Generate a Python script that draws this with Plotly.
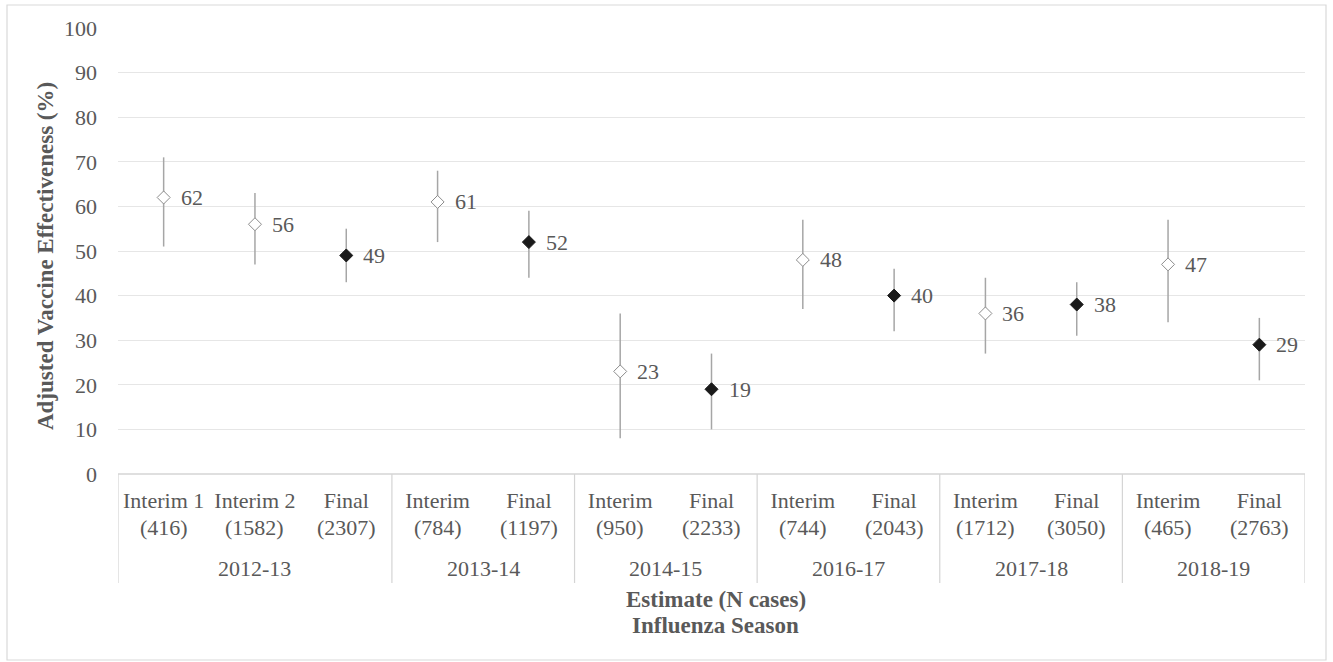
import plotly.graph_objects as go

# ---- data ----
seasons = ["2012-13", "2013-14", "2014-15", "2016-17", "2017-18", "2018-19"]
season_of = ["2012-13", "2012-13", "2012-13", "2013-14", "2013-14", "2014-15", "2014-15",
             "2016-17", "2016-17", "2017-18", "2017-18", "2018-19", "2018-19"]
estimates = ["Interim 1", "Interim 2", "Final", "Interim", "Final", "Interim", "Final",
             "Interim", "Final", "Interim", "Final", "Interim", "Final"]
n_cases = [416, 1582, 2307, 784, 1197, 950, 2233, 744, 2043, 1712, 3050, 465, 2763]
ve = [62, 56, 49, 61, 52, 23, 19, 48, 40, 36, 38, 47, 29]
ci_low = [51, 47, 43, 52, 44, 8, 10, 37, 32, 27, 31, 34, 21]
ci_high = [71, 63, 55, 68, 59, 36, 27, 57, 46, 44, 43, 57, 35]
y_ticks = [0, 10, 20, 30, 40, 50, 60, 70, 80, 90, 100]

TXT = "#595959"
FONT = "Liberation Serif, Times New Roman, DejaVu Serif, serif"
FS = 22

xs = list(range(len(ve)))

# pixel helpers (plot area: x 118..1305, y 28..474)
def py(pix):
    return (474 - pix) / 446

def px(pix):
    return (pix - 118) / 1187

fig = go.Figure()

def add_trace(is_final):
    idx = [i for i in xs if (estimates[i] == "Final") == is_final]
    fig.add_trace(go.Scatter(
        x=[xs[i] for i in idx],
        y=[ve[i] for i in idx],
        mode="markers",
        error_y=dict(type="data", symmetric=False,
                     array=[ci_high[i] - ve[i] for i in idx],
                     arrayminus=[ve[i] - ci_low[i] for i in idx],
                     color="#a6a6a6", thickness=1.5, width=0),
        marker=dict(symbol="diamond", size=10,
                    color="#1a1a1a" if is_final else "white",
                    line=dict(color="#1a1a1a" if is_final else "#8c8c8c", width=1)),
        showlegend=False,
        cliponaxis=False,
    ))

add_trace(False)
add_trace(True)

shapes = []
annotations = []

# value labels to the right of each marker
for i in xs:
    annotations.append(dict(x=xs[i], y=ve[i], xref="x", yref="y", text=str(ve[i]),
                            showarrow=False, xanchor="left", yanchor="middle", xshift=15,
                            font=dict(family=FONT, size=FS, color=TXT)))

# second line of each category label: N cases
for i in xs:
    annotations.append(dict(x=xs[i], y=py(527), xref="x", yref="paper",
                            text=f"({n_cases[i]})", showarrow=False, yanchor="middle",
                            font=dict(family=FONT, size=FS, color=TXT)))

# Season group labels and dividers
bounds = [-0.5]
for s in seasons:
    members = [i for i in xs if season_of[i] == s]
    center = (members[0] + members[-1]) / 2
    annotations.append(dict(x=center, y=py(568), xref="x", yref="paper", text=s,
                            showarrow=False, yanchor="middle",
                            font=dict(family=FONT, size=FS, color=TXT)))
    bounds.append(members[-1] + 0.5)
for b in bounds:
    shapes.append(dict(type="line", xref="x", yref="paper", x0=b, x1=b, y0=0, y1=py(583),
                       line=dict(color="#d4d4d4", width=1.2)))
# top line of category box (0 line)
shapes.append(dict(type="line", xref="paper", yref="paper", x0=0, x1=1, y0=0, y1=0,
                   line=dict(color="#d4d4d4", width=1.5)))
# outer border
shapes.append(dict(type="rect", xref="paper", yref="paper",
                   x0=px(7), x1=px(1326), y0=py(660), y1=py(5),
                   line=dict(color="#d9d9d9", width=1.2)))

annotations.append(dict(x=px(716), y=py(599), xref="paper", yref="paper",
                        text="<b>Estimate (N cases)</b>",
                        showarrow=False, yanchor="middle", xanchor="center",
                        font=dict(family=FONT, size=23, color=TXT)))
annotations.append(dict(x=px(716), y=py(625), xref="paper", yref="paper",
                        text="<b>Influenza Season</b>",
                        showarrow=False, yanchor="middle", xanchor="center",
                        font=dict(family=FONT, size=23, color=TXT)))
annotations.append(dict(x=px(46), y=py(256), xref="paper", yref="paper",
                        text="<b>Adjusted Vaccine Effectiveness (%)</b>", textangle=-90,
                        showarrow=False, yanchor="middle", xanchor="center",
                        font=dict(family=FONT, size=23, color=TXT)))

fig.update_layout(
    width=1333, height=662,
    margin=dict(l=118, r=28, t=28, b=188),
    paper_bgcolor="white", plot_bgcolor="white",
    font=dict(family=FONT, size=FS, color=TXT),
    shapes=shapes, annotations=annotations,
    xaxis=dict(range=[-0.5, len(ve) - 0.5], tickvals=xs, ticktext=estimates,
               showgrid=False, zeroline=False, showline=False, ticks="",
               tickfont=dict(family=FONT, size=FS, color=TXT),
               ticklabelstandoff=11),
    yaxis=dict(range=[0, 100], tickvals=y_ticks, showgrid=True, gridcolor="#e6e6e6",
               gridwidth=1.2, zeroline=False, showline=False, ticks="",
               tickfont=dict(family=FONT, size=FS, color=TXT),
               ticklabelstandoff=20),
)

fig.write_html("out.html", config={"displayModeBar": False},
               post_script="document.body.style.margin='0';")
